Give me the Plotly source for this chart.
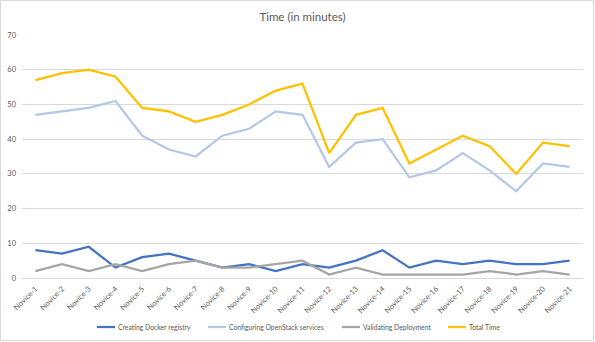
import plotly.graph_objects as go

categories = [f"Novice-{i}" for i in range(1, 22)]
docker = [8, 7, 9, 3, 6, 7, 5, 3, 4, 2, 4, 3, 5, 8, 3, 5, 4, 5, 4, 4, 5]
openstack = [47, 48, 49, 51, 41, 37, 35, 41, 43, 48, 47, 32, 39, 40, 29, 31, 36, 31, 25, 33, 32]
validating = [2, 4, 2, 4, 2, 4, 5, 3, 3, 4, 5, 1, 3, 1, 1, 1, 1, 2, 1, 2, 1]
total = [57, 59, 60, 58, 49, 48, 45, 47, 50, 54, 56, 36, 47, 49, 33, 37, 41, 38, 30, 39, 38]

series = [
    ("Creating Docker registry", docker, "#4472C4"),
    ("Configuring OpenStack services", openstack, "#B4C7E7"),
    ("Validating Deployment", validating, "#A5A5A5"),
    ("Total Time", total, "#FFC000"),
]

W, H = 595, 342
L, R, T, B = 22, 12, 35, 64
pw = W - L - R
ph = H - T - B


def px_x(x):
    return (x - L) / pw


def px_y(y):
    return (H - B - y) / ph


fig = go.Figure()
for name, vals, color in series:
    fig.add_trace(go.Scatter(x=categories, y=vals, name=name, mode="lines",
                             line=dict(color=color, width=2.25), showlegend=False))

# outer chart border
fig.add_shape(type="rect", xref="paper", yref="paper",
              x0=px_x(0.5), x1=px_x(W - 1.5), y0=px_y(H - 1.5), y1=px_y(0.5),
              line=dict(color="#D9D9D9", width=1), layer="below")

# legend (Excel-style, short line keys)
legend_x = [97, 208, 342, 448]
legend_y = 327
for (name, vals, color), lx in zip(series, legend_x):
    fig.add_shape(type="line", xref="paper", yref="paper",
                  x0=px_x(lx), x1=px_x(lx + 18), y0=px_y(legend_y), y1=px_y(legend_y),
                  line=dict(color=color, width=2.25))
    fig.add_annotation(xref="paper", yref="paper", x=px_x(lx + 19), y=px_y(legend_y),
                       text=name, showarrow=False, xanchor="left", yanchor="middle",
                       font=dict(size=6.8, color="#595959"))

fig.update_layout(
    width=W, height=H,
    margin=dict(l=L, r=R, t=T, b=B, autoexpand=False),
    paper_bgcolor="white", plot_bgcolor="white",
    font=dict(family="Lato, Open Sans, sans-serif", color="#595959", size=8),
    title=dict(text="Time (in minutes)", x=0.5, xref="paper", y=1 - 17 / H, yanchor="middle",
               font=dict(size=11.5, color="#595959")),
    showlegend=False,
    xaxis=dict(type="category", range=[-0.5, len(categories) - 0.5], tickangle=-45,
               showgrid=False, showline=False, automargin=False,
               ticks="", ticklabelstandoff=4, tickfont=dict(size=7.5, color="#595959")),
    yaxis=dict(range=[0, 70], dtick=10, showgrid=True, gridcolor="#D9D9D9", gridwidth=1,
               zeroline=True, zerolinecolor="#D9D9D9", zerolinewidth=1, automargin=False,
               showline=False, ticks="", ticklabelstandoff=5,
               tickfont=dict(size=7.5, color="#595959")),
)

fig.write_html("out.html")
